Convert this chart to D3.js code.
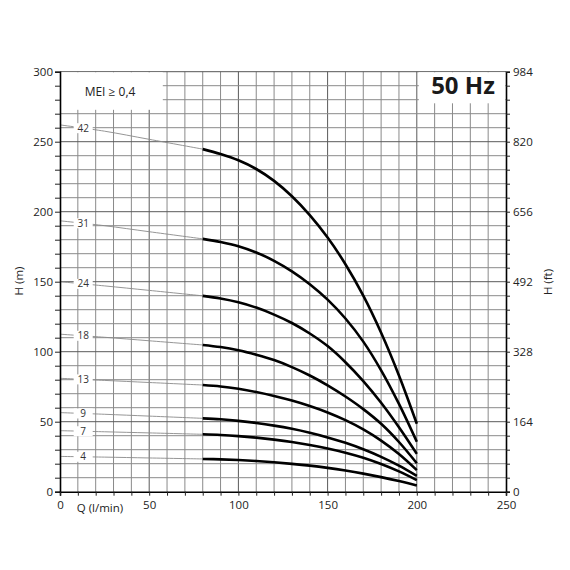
<!DOCTYPE html>
<html>
<head>
<meta charset="utf-8">
<script src="https://cdn.jsdelivr.net/npm/d3@7"></script>
<style>
  html, body { margin: 0; padding: 0; background: #fff; }
  svg { display: block; font-family: "Open Sans", "DejaVu Sans", sans-serif; }
</style>
</head>
<body>
<svg id="chart" width="570" height="570"></svg>
<script>
// ---------- data ----------
const stages = [42, 31, 24, 18, 13, 9, 7, 4];
const qLow = [0, 25, 50, 80];
const qHigh = [80, 90, 100, 110, 120, 130, 140, 150, 160, 170, 180, 190, 200];

const low42 = [262, 257.5, 251.7, 244.7];
const low31 = [193.5, 190, 185.7, 180.6];
const low24 = [150, 147, 143.8, 139.9];
const low18 = [112.5, 110.3, 107.8, 104.8];
const low13 = [81, 79.5, 78, 76.2];
const low9  = [56.5, 55.3, 54, 52.4];
const low7  = [43.6, 42.8, 42, 41];
const low4  = [25.2, 24.7, 24.1, 23.4];

const high42 = [244.7, 241.2, 236.7, 230.5, 222, 211, 197.5, 181.5, 162.5, 140, 113.5, 83, 48.5];
const high31 = [180.6, 178.4, 175.4, 170.9, 164.9, 157.4, 148.2, 137.2, 123.7, 107.2, 86.7, 62.7, 35.7];
const high24 = [139.9, 138, 135.3, 131.5, 126.5, 120.5, 113, 104, 92.5, 79, 63.5, 46, 27];
const high18 = [104.8, 103.3, 101, 97.8, 94, 89, 83, 76, 68, 59, 48.5, 35.5, 20.3];
const high13 = [76.2, 75.2, 73.5, 71.2, 68.4, 65.1, 61.2, 56.6, 51.1, 44.5, 36.5, 26.9, 15.4];
const high9  = [52.4, 51.7, 50.6, 49.1, 47.2, 44.9, 42.1, 38.8, 34.9, 30.3, 24.9, 18.6, 11.3];
const high7  = [41, 40.5, 39.7, 38.6, 37.2, 35.5, 33.4, 30.9, 27.9, 24.3, 19.8, 14.5, 8.3];
const high4  = [23.4, 23.1, 22.6, 21.9, 21, 19.9, 18.6, 17, 15.1, 12.9, 10.4, 7.6, 4.5];

const lowSets = [low42, low31, low24, low18, low13, low9, low7, low4];
const highSets = [high42, high31, high24, high18, high13, high9, high7, high4];

const xTicksLabeled = [0, 50, 100, 150, 200, 250];
const yTicksLabeled = [0, 50, 100, 150, 200, 250, 300];
const ftTicksLabeled = [0, 164, 328, 492, 656, 820, 984];
const labelQ = 13;

// ---------- layout ----------
const svg = d3.select("#chart");
const L = 60, R = 506, T = 71.7, B = 491.7;
const x = d3.scaleLinear().domain([0, 250]).range([L, R]);
const y = d3.scaleLinear().domain([0, 300]).range([B, T]);
const yft = d3.scaleLinear().domain([0, 984]).range([B, T]);

// grid
const g = svg.append("g");
d3.range(10, 250, 10).forEach(q => {
  g.append("line").attr("x1", x(q)).attr("x2", x(q)).attr("y1", B).attr("y2", T)
    .attr("stroke", q % 50 === 0 ? "#5a5a5a" : "#8a8a8a").attr("stroke-width", 1);
});
d3.range(10, 300, 10).forEach(h => {
  g.append("line").attr("x1", L).attr("x2", R).attr("y1", y(h)).attr("y2", y(h))
    .attr("stroke", h % 50 === 0 ? "#5a5a5a" : "#8a8a8a").attr("stroke-width", 1);
});
g.append("line").attr("x1", L).attr("x2", R).attr("y1", T).attr("y2", T)
  .attr("stroke", "#555").attr("stroke-width", 1);

// white boxes at top
svg.append("rect").attr("x", L + 0.8).attr("y", T + 0.6).attr("width", 102).attr("height", 37.5).attr("fill", "#fff");
svg.append("rect").attr("x", 418.8).attr("y", T + 0.6).attr("width", R - 419.5).attr("height", 31).attr("fill", "#fff");
svg.append("text").attr("x", 110).attr("y", 96).attr("text-anchor", "middle")
  .attr("font-size", 12).attr("fill", "#222").text("MEI ≥ 0,4");
svg.append("text").attr("x", 463).attr("y", 94).attr("text-anchor", "middle")
  .attr("font-size", 24).attr("font-weight", "bold").attr("fill", "#1a1a1a").text("50 Hz");

// curves
const line = d3.line().x(d => x(d[0])).y(d => y(d[1])).curve(d3.curveCatmullRom.alpha(0.5));
stages.forEach((s, i) => {
  const lowPts = qLow.map((q, j) => [q, lowSets[i][j]]);
  const highPts = qHigh.map((q, j) => [q, highSets[i][j]]);
  svg.append("path").attr("d", line(lowPts)).attr("fill", "none")
    .attr("stroke", "#8a8a8a").attr("stroke-width", 0.9);
  svg.append("path").attr("d", line(highPts)).attr("fill", "none")
    .attr("stroke", "#000").attr("stroke-width", 2.6).attr("stroke-linecap", "butt");
  const lh = d3.interpolateNumber(lowSets[i][0], lowSets[i][1])(labelQ / 25);
  svg.append("rect").attr("x", x(labelQ) - 9.5).attr("y", y(lh) - 5).attr("width", 19).attr("height", 10)
    .attr("fill", "#fff");
  svg.append("text").attr("x", x(labelQ)).attr("y", y(lh) + 3.6).attr("text-anchor", "middle")
    .attr("font-size", 10).attr("fill", "#333").text(s);
});

// axes
const axLeft = d3.axisLeft(y).tickValues(d3.range(0, 301, 10))
  .tickSize(5).tickFormat(d => yTicksLabeled.includes(d) ? d : "");
const gl = svg.append("g").attr("transform", `translate(${L},0)`).call(axLeft);
const axBottom = d3.axisBottom(x).tickValues(d3.range(0, 251, 10))
  .tickSize(4).tickFormat(d => xTicksLabeled.includes(d) ? d : "");
const gb = svg.append("g").attr("transform", `translate(0,${B})`).call(axBottom);
const ftMinor = d3.range(0, 301, 10).map(h => h * 3.28);
const axRight = d3.axisRight(yft).tickValues(ftMinor)
  .tickSize(4).tickFormat(d => {
    const m = ftTicksLabeled.find(v => Math.abs(v - d) < 0.5);
    return m !== undefined ? m : "";
  });
const gr = svg.append("g").attr("transform", `translate(${R},0)`).call(axRight);

[gl, gb, gr].forEach(a => {
  a.select(".domain").attr("stroke", "#000").attr("stroke-width", 1.6);
  a.selectAll(".tick line").attr("stroke", "#222");
  a.selectAll(".tick text").attr("font-size", 11.5).attr("fill", "#222")
    .attr("font-family", "'Open Sans', 'DejaVu Sans', sans-serif");
});
gl.selectAll(".tick text").attr("x", -7);
gb.selectAll(".tick text").attr("y", 9);
gr.selectAll(".tick text").attr("x", 7);

// axis titles
svg.append("text").attr("x", 100).attr("y", 512).attr("text-anchor", "middle")
  .attr("font-size", 11.5).attr("fill", "#222").text("Q (l/min)");
svg.append("text").attr("transform", `translate(23,281) rotate(-90)`).attr("text-anchor", "middle")
  .attr("font-size", 11.5).attr("fill", "#222").text("H (m)");
svg.append("text").attr("transform", `translate(552,282) rotate(-90)`).attr("text-anchor", "middle")
  .attr("font-size", 11.5).attr("fill", "#222").text("H (ft)");
</script>
</body>
</html>
